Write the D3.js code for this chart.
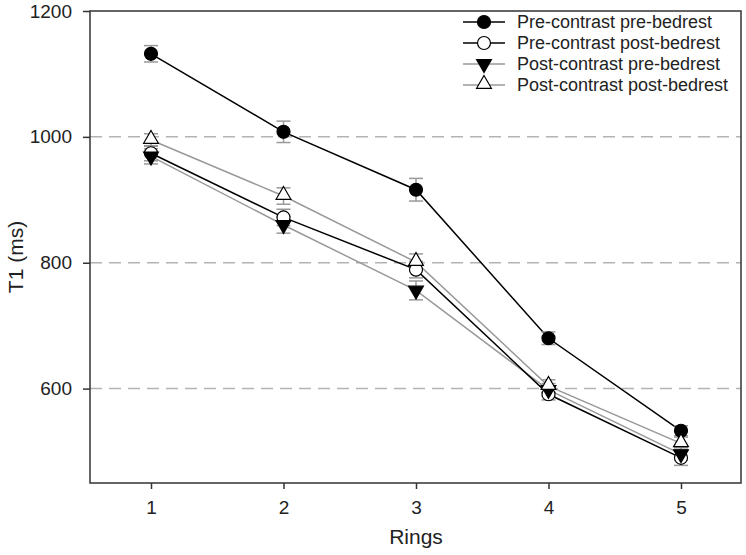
<!DOCTYPE html>
<html>
<head>
<meta charset="utf-8">
<script src="https://cdn.jsdelivr.net/npm/d3@7"></script>
<style>
  html, body { margin: 0; padding: 0; background: #fff; }
  svg { display: block; font-family: "Liberation Sans", Arial, sans-serif; }
</style>
</head>
<body>
<svg id="chart" width="746" height="555"></svg>
<script>
const rings = [1, 2, 3, 4, 5];
const seriesNames = [
  "Pre-contrast pre-bedrest",
  "Pre-contrast post-bedrest",
  "Post-contrast pre-bedrest",
  "Post-contrast post-bedrest"
];
const preContrastPreBedrest = [1132, 1008, 916, 680, 533];
const preContrastPostBedrest = [974, 872, 789, 591, 490];
const postContrastPreBedrest = [969, 860, 756, 598, 496];
const postContrastPostBedrest = [995, 906, 801, 604, 513];
const errPreContrastPreBedrest = [13, 17, 18, 10, 8];
const errPreContrastPostBedrest = [12, 13, 13, 9, 12];
const errPostContrastPreBedrest = [12, 13, 15, 10, 10];
const errPostContrastPostBedrest = [10, 13, 13, 10, 10];
const yTicks = [600, 800, 1000, 1200];
const gridValues = [600, 800, 1000];

const series = [
  { name: seriesNames[0], values: preContrastPreBedrest, err: errPreContrastPreBedrest, line: "#000", symbol: "circle", fill: "#000" },
  { name: seriesNames[1], values: preContrastPostBedrest, err: errPreContrastPostBedrest, line: "#000", symbol: "circle", fill: "#fff" },
  { name: seriesNames[2], values: postContrastPreBedrest, err: errPostContrastPreBedrest, line: "#999", symbol: "down", fill: "#000" },
  { name: seriesNames[3], values: postContrastPostBedrest, err: errPostContrastPostBedrest, line: "#999", symbol: "up", fill: "#fff" }
];

const svg = d3.select("#chart");
const pLeft = 90, pRight = 741, pTop = 11, pBottom = 483;

const x = d3.scaleLinear().domain([1, 5]).range([151, 681]);
const y = d3.scaleLinear().domain([450, 1200]).range([pBottom, pTop]);

// grid lines
svg.append("g").selectAll("line").data(gridValues).join("line")
  .attr("x1", pLeft).attr("x2", pRight)
  .attr("y1", d => y(d)).attr("y2", d => y(d))
  .attr("stroke", "#b3b3b3").attr("stroke-width", 1.5)
  .attr("stroke-dasharray", "12,7");

// frame
svg.append("rect")
  .attr("x", pLeft).attr("y", pTop)
  .attr("width", pRight - pLeft).attr("height", pBottom - pTop)
  .attr("fill", "none").attr("stroke", "#333").attr("stroke-width", 1.5);

// axes
const yAxis = d3.axisLeft(y).tickValues(yTicks).tickFormat(d3.format("d")).tickSize(7).tickPadding(11);
const gy = svg.append("g").attr("transform", `translate(${pLeft},0)`).call(yAxis);
const xAxis = d3.axisBottom(x).tickValues(rings).tickFormat(d3.format("d")).tickSize(6).tickPadding(12);
const gx = svg.append("g").attr("transform", `translate(0,${pBottom})`).call(xAxis);
[gx, gy].forEach(g => {
  g.select(".domain").remove();
  g.selectAll(".tick line").attr("stroke", "#333").attr("stroke-width", 1.5);
  g.selectAll(".tick text").attr("fill", "#222").style("font-size", "19px")
    .style("font-family", "'Liberation Sans', Arial, sans-serif");
});

// axis titles
svg.append("text").attr("x", (151 + 681) / 2).attr("y", 544)
  .attr("text-anchor", "middle").attr("fill", "#222")
  .style("font-size", "21px").text("Rings");
svg.append("text")
  .attr("transform", `translate(23,${(pTop + pBottom) / 2 + 10}) rotate(-90)`)
  .attr("text-anchor", "middle").attr("fill", "#222")
  .style("font-size", "21px").text("T1 (ms)");

function symPath(kind) {
  if (kind === "circle") return d3.symbol().type(d3.symbolCircle).size(Math.PI * 6.5 * 6.5)();
  return d3.symbol().type(d3.symbolTriangle).size(95)();
}
function symTransform(kind, px, py) {
  if (kind === "down") return `translate(${px},${py}) rotate(180)`;
  if (kind === "up") return `translate(${px},${py - 1})`;
  return `translate(${px},${py})`;
}

const lineGen = d3.line().x((d, i) => x(rings[i])).y(d => y(d));

// lines (gray first, black on top)
[3, 2, 1, 0].forEach(si => {
  const s = series[si];
  svg.append("path").datum(s.values)
    .attr("d", lineGen).attr("fill", "none")
    .attr("stroke", s.line).attr("stroke-width", 1.5);
});

// error bars
series.forEach(s => {
  const g = svg.append("g").attr("stroke", "#999").attr("stroke-width", 1.5);
  s.values.forEach((v, i) => {
    const cx = x(rings[i]);
    const y1 = y(v + s.err[i]), y2 = y(v - s.err[i]);
    g.append("line").attr("x1", cx).attr("x2", cx).attr("y1", y1).attr("y2", y2);
    g.append("line").attr("x1", cx - 7).attr("x2", cx + 7).attr("y1", y1).attr("y2", y1);
    g.append("line").attr("x1", cx - 7).attr("x2", cx + 7).attr("y1", y2).attr("y2", y2);
  });
});

// markers
series.forEach(s => {
  svg.append("g").selectAll("path").data(s.values).join("path")
    .attr("d", symPath(s.symbol))
    .attr("transform", (d, i) => symTransform(s.symbol, x(rings[i]), y(d)))
    .attr("fill", s.fill).attr("stroke", "#000").attr("stroke-width", 1.2);
});

// legend
const lg = svg.append("g");
series.forEach((s, i) => {
  const ly = 22 + i * 21;
  lg.append("line").attr("x1", 463).attr("x2", 505).attr("y1", ly).attr("y2", ly)
    .attr("stroke", s.line).attr("stroke-width", 1.5);
  lg.append("path").attr("d", symPath(s.symbol))
    .attr("transform", symTransform(s.symbol, 484, ly))
    .attr("fill", s.fill).attr("stroke", "#000").attr("stroke-width", 1.2);
  lg.append("text").attr("x", 517).attr("y", ly + 6)
    .attr("fill", "#222").style("font-size", "18px").text(s.name);
});
</script>
</body>
</html>
